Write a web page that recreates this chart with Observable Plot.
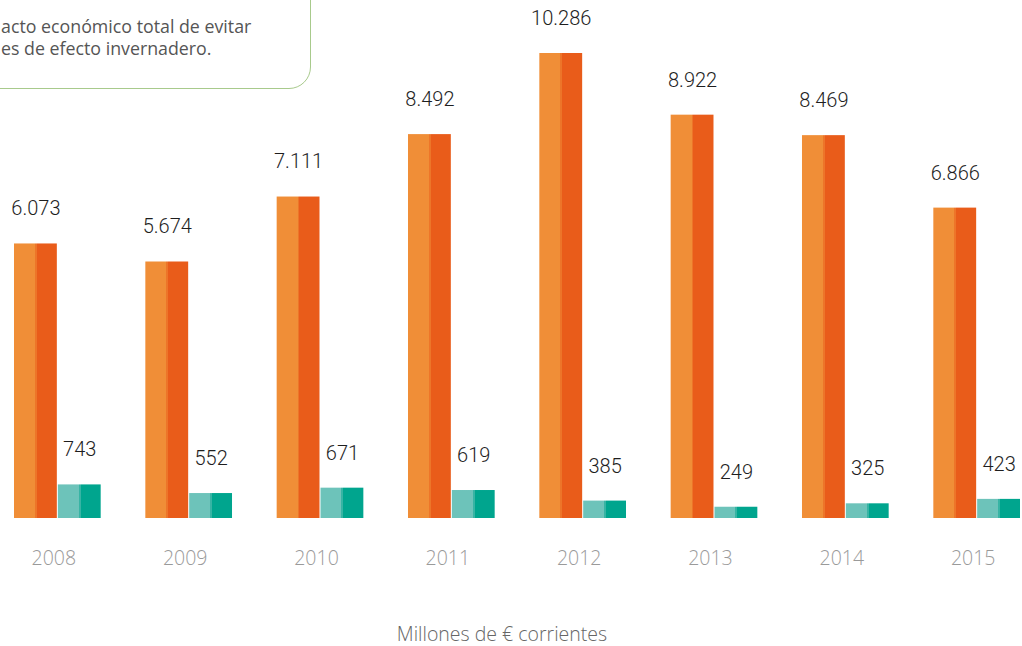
<!DOCTYPE html>
<html><head><meta charset="utf-8">
<script src="https://cdn.jsdelivr.net/npm/d3@7"></script>
<script src="https://cdn.jsdelivr.net/npm/@observablehq/plot@0.6"></script>
<style>
body{margin:0;background:#fff;width:1022px;height:646px;overflow:hidden;position:relative;font-family:"Open Sans",sans-serif;}
#legend{position:absolute;left:-30px;top:-30px;width:341px;height:119px;border:1.5px solid #a8ca8c;border-radius:22px;box-sizing:border-box;}
#legend div{position:absolute;left:30px;font-size:17.8px;color:#555;white-space:nowrap;font-weight:400;}
#caption{position:absolute;left:0;width:1004px;top:620px;text-align:center;font-size:19.5px;color:#666;font-weight:300;}
#chart{position:absolute;left:0;top:0;}
#chart svg g[aria-label="fx-axis tick label"] text{font-weight:300;}
</style></head>
<body>
<div id="chart"></div>
<div id="legend"><div style="top:43px">acto económico total de evitar</div><div style="top:65px">es de efecto invernadero.</div></div>
<div id="caption">Millones de € corrientes</div>
<script>
const years = ["2008","2009","2010","2011","2012","2013","2014","2015"];
const seriesA = [6073,5674,7111,8492,10286,8922,8469,6866];
const seriesB = [743,552,671,619,385,249,325,423];

const data = [];
years.forEach((y,i)=>{
  data.push({year:y, s:"A", v:seriesA[i]});
  data.push({year:y, s:"B", v:seriesB[i]});
});
const fmt = d3.formatLocale({decimal:",", thousands:".", grouping:[3], currency:["","€"]}).format(",d");

const chart = Plot.plot({
  width:1022, height:646,
  marginLeft:14, marginRight:2, marginTop:53, marginBottom:128,
  fx:{domain:years, paddingInner:0.34, paddingOuter:0, axis:null, round:false},
  x:{domain:["A","B"], paddingInner:0.023, paddingOuter:0, axis:null, round:false},
  y:{domain:[0, d3.max(seriesA)], axis:null},
  style:{fontFamily:"Open Sans", fontSize:"19.5px", color:"#9a9a9a", background:"transparent"},
  marks:[
    Plot.axisFx({anchor:"bottom", tickSize:0, tickPadding:33, label:null, dx:-4, fill:"#9a9a9a"}),
    Plot.barY(data, {fx:"year", x:"s", y:"v", fill:d=>d.s==="A"?"url(#gA)":"url(#gB)"}),
    Plot.text(data, {fx:"year", x:"s", y:"v", text:d=>fmt(d.v), dy:-35, fontSize:20, fill:"#1e1e1e", fontFamily:"Roboto", fontWeight:300})
  ]
});
// two-tone gradients
const ns = "http://www.w3.org/2000/svg";
const defs = document.createElementNS(ns,"defs");
function grad(id, c1, c2){
  const g = document.createElementNS(ns,"linearGradient");
  g.setAttribute("id",id); g.setAttribute("x1","0"); g.setAttribute("x2","1"); g.setAttribute("y1","0"); g.setAttribute("y2","0");
  const mid = d3.interpolateRgb(c1,c2)(0.5);
  [[0,c1],[0.49,c1],[0.49,mid],[0.53,mid],[0.53,c2],[1,c2]].forEach(([o,c])=>{
    const s=document.createElementNS(ns,"stop"); s.setAttribute("offset",o); s.setAttribute("stop-color",c); g.appendChild(s);
  });
  defs.appendChild(g);
}
grad("gA","#f08e37","#e95c1a");
grad("gB","#6dc3ba","#00a58e");
chart.insertBefore(defs, chart.firstChild);
document.getElementById("chart").appendChild(chart);
</script>
</body></html>
